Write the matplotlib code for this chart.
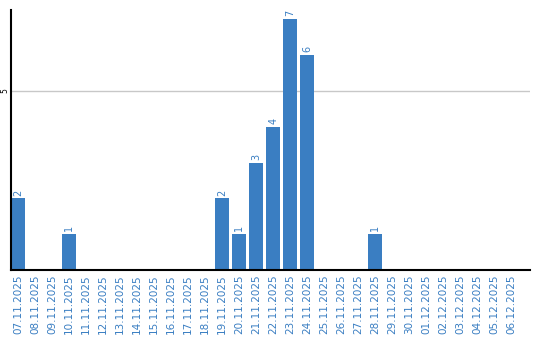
import matplotlib
matplotlib.use("Agg")
import matplotlib.pyplot as plt
import datetime as dt

# dates and counts
start = dt.date(2025, 11, 7)
dates = [(start + dt.timedelta(days=i)).strftime("%d.%m.%Y") for i in range(30)]
counts = {"07.11.2025": 2, "10.11.2025": 1, "19.11.2025": 2, "20.11.2025": 1,
          "21.11.2025": 3, "22.11.2025": 4, "23.11.2025": 7, "24.11.2025": 6,
          "28.11.2025": 1}
values = [counts.get(d, 0) for d in dates]

blue = "#3a7ec2"

fig = plt.figure(figsize=(5.4, 3.4), dpi=100)
ax = fig.add_axes([11 / 540, 1 - 270 / 340, 519 / 540, 260 / 340])

x = list(range(len(dates)))
ax.bar(x, values, width=0.82, color=blue, zorder=2)

# value labels on top of bars
for xi, v in zip(x, values):
    if v > 0:
        ax.text(xi, v + 0.08, str(v), rotation=90, ha="center", va="bottom",
                color=blue, fontsize=7)

ax.set_xlim(-0.41, 30.1)
ax.set_ylim(0, 7.26)
ax.set_xticks(x)
ax.set_xticklabels(dates, rotation=90, color=blue, fontsize=7.5)
ax.set_yticks([5])
ax.set_yticklabels(["5"], rotation=90, fontsize=5.5, va="center")
ax.tick_params(axis="x", length=0, pad=3)
ax.tick_params(axis="y", length=0, pad=1)
ax.grid(axis="y", color="#c8c8c8", linewidth=1, zorder=0)

for s in ["top", "right"]:
    ax.spines[s].set_visible(False)
ax.spines["left"].set_linewidth(1.5)
ax.spines["bottom"].set_linewidth(1.5)

fig.savefig("out.png", dpi=100)
